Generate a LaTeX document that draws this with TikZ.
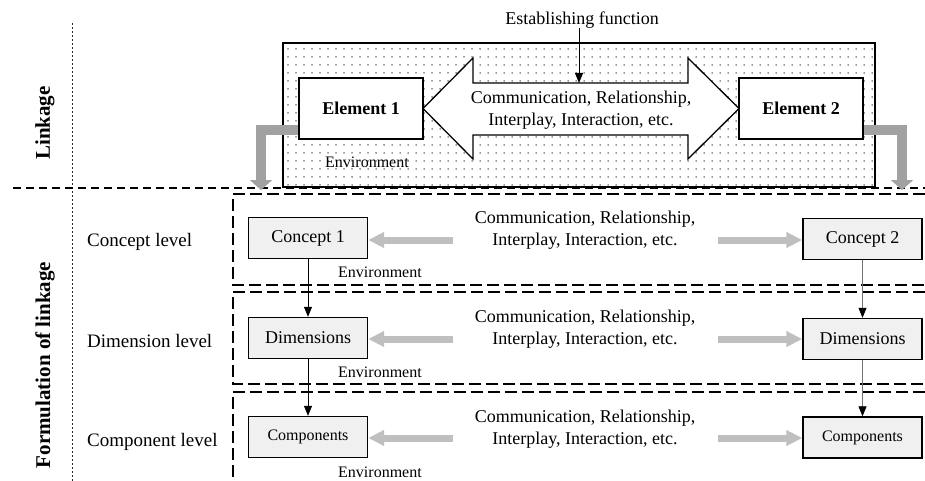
\documentclass[tikz,border=0pt]{standalone}
\usepackage{fontspec}
\setmainfont{Liberation Serif}
\usetikzlibrary{arrows.meta,patterns.meta}
\begin{document}
\begin{tikzpicture}[x=1pt,y=-1pt,
  txt/.style={font=\fontsize{18}{22}\selectfont, align=center, inner sep=0pt},
  lvl/.style={font=\fontsize{19}{23}\selectfont, anchor=west, inner sep=0pt},
  envlbl/.style={font=\fontsize{16}{19}\selectfont, anchor=west, inner sep=0pt},
  side/.style={font=\bfseries\fontsize{21}{25}\selectfont, rotate=90, inner sep=0pt},
  elem/.style={draw, line width=1.6pt, fill=white, minimum width=124pt, minimum height=61pt, font=\bfseries\fontsize{18}{22}\selectfont, inner sep=0pt},
  cbox/.style={draw, line width=1.4pt, fill=black!6, minimum width=119pt, minimum height=41pt, inner sep=0pt, font=\fontsize{18}{22}\selectfont},
  cboxs/.style={cbox, font=\fontsize{16}{20}\selectfont},
  greyL/.style={line width=10pt, draw=black!37, line join=miter, -{Triangle[width=22pt,length=10pt,fill=black!37]}},
  greyH/.style={line width=7pt, draw=black!25, -{Triangle[width=15pt,length=16pt,fill=black!25]}},
  down/.style={line width=0.8pt, -{Triangle[width=8pt,length=10pt]}},
  downg/.style={line width=0.8pt, draw=black!55, -{Triangle[width=8pt,length=10pt,fill=black,color=black]}},
  lvlbox/.style={dash pattern=on 12pt off 5pt, line width=1.3pt},
  sepline/.style={dash pattern=on 8pt off 5pt, line width=1.1pt},
  dotline/.style={dash pattern=on 2pt off 2pt, line width=0.7pt, draw=black!85},
]
\useasboundingbox (0,0) rectangle (925,481);

% separators
\draw[dotline] (72,23) -- (72,481);
\draw[sepline] (13,188) -- (925,188);
\node[side] (lk) at (45,123) {Linkage};
\node[side] (fl) at (45,365) {Formulation of linkage};

% environment box
\draw[line width=1.6pt, pattern={Dots[distance=8pt,radius=0.75pt]}, pattern color=black!80] (283,43) rectangle (875,187);

% big double arrow
\draw[line width=1.3pt, fill=white, line join=miter]
  (423,108.5) -- (473,58) -- (473,83) -- (688,83) -- (688,58) -- (739,108.5)
  -- (688,159) -- (688,135) -- (473,135) -- (473,159) -- cycle;
\node[txt] (ct) at (581,110) {Communication, Relationship,\\Interplay, Interaction, etc.};

\node[txt] (ef) at (582,20) {Establishing function};
\coordinate (shafttop) at (579,83);
\draw[down] (ef.south -| shafttop) -- (shafttop);

% grey L arrows
\coordinate (gl) at (261,190);
\coordinate (gr) at (902,190);
\node[elem] (e1) at (361,108.5) {Element 1};
\node[elem] (e2) at (801,108.5) {Element 2};
\draw[greyL] ([yshift=-21.5pt]e1.west) -| (gl);
\draw[greyL] ([yshift=-21.5pt]e2.east) -| (gr);
\node[envlbl] (env0) at (325,162) {Environment};

% level boxes
\draw[lvlbox] (925,194) -- (233,194) -- (233,285) -- (925,285);
\draw[lvlbox] (925,292) -- (233,292) -- (233,384) -- (925,384);
\draw[lvlbox] (925,392) -- (233,392) -- (233,481);

% level labels
\node[lvl] (l1) at (87,242) {Concept level};
\node[lvl] (l2) at (87,341) {Dimension level};
\node[lvl] (l3) at (87,442) {Component level};

% boxes
\node[cbox] (c1) at (308,238) {Concept 1};
\node[cbox] (c2) at (862.5,239) {Concept 2};
\node[cbox] (d1) at (308,338) {Dimensions};
\node[cbox] (d2) at (862.5,339) {Dimensions};
\node[cboxs] (p1) at (308,437) {Components};
\node[cboxs] (p2) at (862.5,437.5) {Components};

% texts
\node[txt] (t1) at (585,230) {Communication, Relationship,\\Interplay, Interaction, etc.};
\node[txt] (t2) at (585,329) {Communication, Relationship,\\Interplay, Interaction, etc.};
\node[txt] (t3) at (585,429) {Communication, Relationship,\\Interplay, Interaction, etc.};

% grey arrows
\coordinate (a1l) at (453,240);
\coordinate (a1r) at (718,240);
\coordinate (a2l) at (453,339);
\coordinate (a2r) at (718,339);
\coordinate (a3l) at (453,438);
\coordinate (a3r) at (718,438);
\draw[greyH] (a1l) -- (a1l -| c1.east);
\draw[greyH] (a1r) -- (a1r -| c2.west);
\draw[greyH] (a2l) -- (a2l -| d1.east);
\draw[greyH] (a2r) -- (a2r -| d2.west);
\draw[greyH] (a3l) -- (a3l -| p1.east);
\draw[greyH] (a3r) -- (a3r -| p2.west);

% down arrows
\draw[down] (c1.south) -- (d1.north);
\draw[down] (d1.south) -- (p1.north);
\draw[downg] (c2.south) -- (d2.north);
\draw[downg] (d2.south) -- (p2.north);

% environment labels
\node[envlbl] (env1) at (338,272) {Environment};
\node[envlbl] (env2) at (338,372) {Environment};
\node[envlbl] (env3) at (338,472) {Environment};
\end{tikzpicture}
\end{document}
